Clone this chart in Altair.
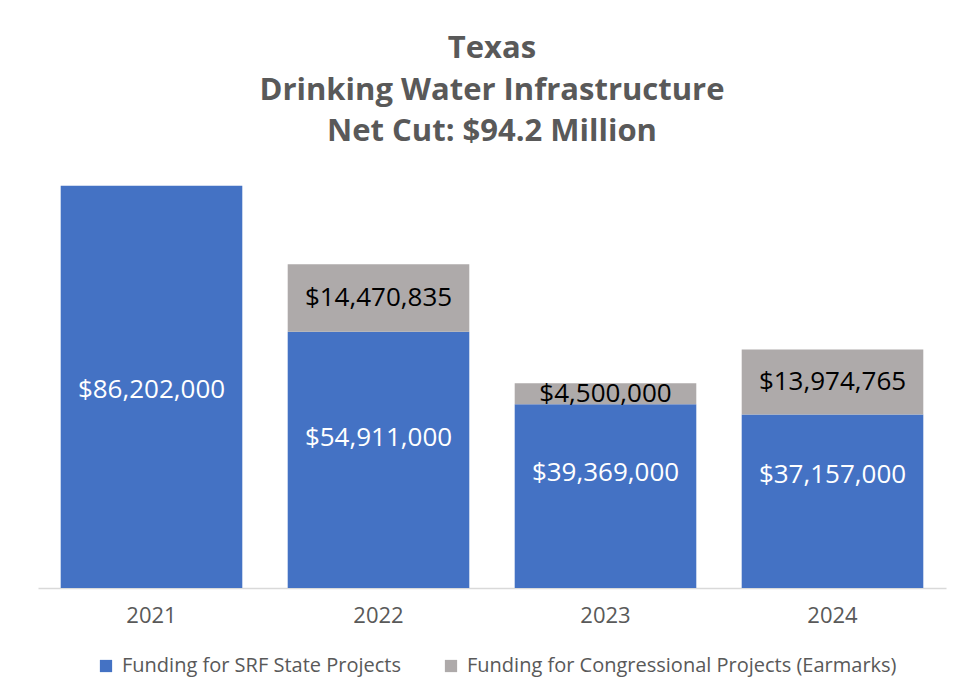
import altair as alt
import pandas as pd

years = ["2021", "2022", "2023", "2024"]
srf_values = [86202000, 54911000, 39369000, 37157000]
earmark_values = [0, 14470835, 4500000, 13974765]
# where the SRF value labels sit (data units)
srf_label_pos = [42450000, 32200000, 24700000, 24200000]
series_names = ["Funding for SRF State Projects", "Funding for Congressional Projects (Earmarks)"]
series_colors = ["#4472C4", "#AEAAAA"]
label_colors = ["#FFFFFF", "#000000"]

rows = []
for i, y in enumerate(years):
    rows.append({"year": y, "series": series_names[0], "value": srf_values[i], "order": 0,
                 "lc": label_colors[0], "lp": srf_label_pos[i]})
    rows.append({"year": y, "series": series_names[1], "value": earmark_values[i], "order": 1,
                 "lc": label_colors[1], "lp": None})
df = pd.DataFrame(rows)

FONT = "Open Sans"

base = alt.Chart(df).transform_stack(
    stack="value", groupby=["year"], as_=["y0", "y1"], sort=[alt.SortField("order", order="ascending")]
).transform_calculate(
    mid="datum.lp != null ? datum.lp : (datum.y0 + datum.y1) / 2"
)

xenc = alt.X("year:N", sort=years, title=None,
             scale=alt.Scale(paddingInner=0.2, paddingOuter=0.1),
             axis=alt.Axis(labelAngle=0, labelFontSize=22, labelColor="#595959", labelFont=FONT,
                           ticks=False, domainColor="#D9D9D9", domainWidth=1.5, labelPadding=17))
yscale = alt.Scale(domain=[0, 90000000], nice=False)

bars = base.mark_bar().encode(
    x=xenc,
    y=alt.Y("y0:Q", scale=yscale, axis=None),
    y2="y1:Q",
    color=alt.Color("series:N", scale=alt.Scale(domain=series_names, range=series_colors),
                    legend=alt.Legend(title=None, orient="none", direction="horizontal",
                                      legendX=58, legendY=488, labelFontSize=20, labelColor="#595959",
                                      labelFont=FONT, symbolType="square", symbolSize=150,
                                      symbolStrokeWidth=0, columnPadding=40, labelOffset=6,
                                      labelLimit=0)),
)

labels = base.transform_filter("datum.value > 0").mark_text(fontSize=26, font=FONT).encode(
    x=alt.X("year:N", sort=years),
    y=alt.Y("mid:Q", scale=yscale),
    text=alt.Text("value:Q", format="$,.0f"),
    color=alt.Color("lc:N", scale=None, legend=None),
)

chart = alt.layer(bars, labels).properties(
    width=908, height=420,
    background="white",
    title=alt.Title(["Texas", "Drinking Water Infrastructure", "Net Cut: $94.2 Million"],
                    fontSize=31, font=FONT, fontWeight="bold", color="#595959",
                    lineHeight=41.5, offset=20, anchor="middle"),
    autosize=alt.AutoSizeParams(type="none"),
    padding={"left": 30, "top": 160, "right": 10, "bottom": 100},
).configure_view(strokeWidth=0, stroke="transparent")

chart.save("out.html", embed_options={"renderer": "svg", "actions": False})
